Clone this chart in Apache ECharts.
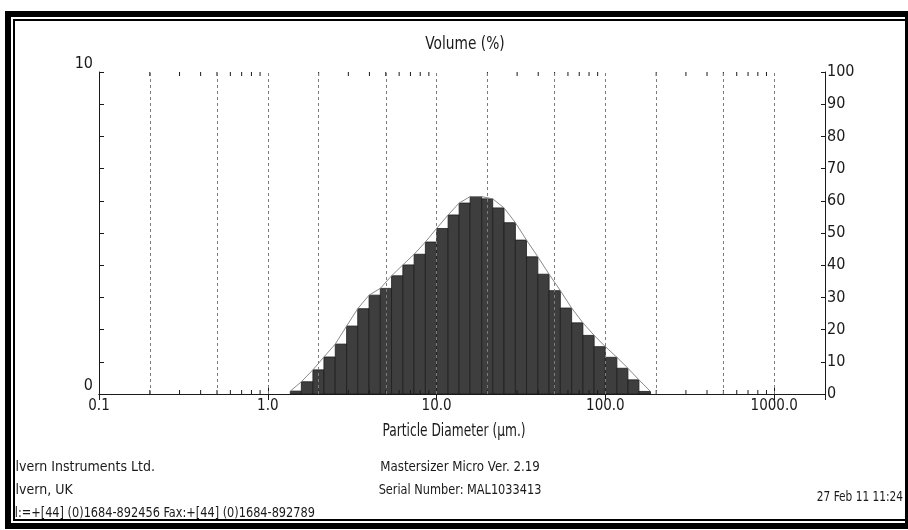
<!DOCTYPE html>
<html><head><meta charset="utf-8">
<script src="https://cdn.jsdelivr.net/npm/echarts@6/dist/echarts.min.js"></script>
<style>html,body{margin:0;padding:0;background:#fff}#c{width:908px;height:530px}</style>
</head><body><div id="c"></div>
<script>
// Size class edges (µm) and volume % in each class
const binEdges = [1.36,1.58,1.85,2.15,2.51,2.93,3.41,3.98,4.64,5.41,6.31,7.36,8.58,10.0,11.7,13.6,15.8,18.5,21.5,25.1,29.3,34.1,39.8,46.4,54.1,63.1,73.6,85.8,100,117,136,158,185];
const volumePct = [0.09,0.38,0.75,1.15,1.55,2.11,2.65,3.07,3.28,3.67,4.01,4.34,4.72,5.14,5.56,5.93,6.13,6.06,5.78,5.32,4.78,4.26,3.72,3.21,2.67,2.21,1.82,1.47,1.14,0.80,0.44,0.08];
const xTickLabels = [0.1, 1, 10, 100, 1000];
const gridValues = [0.2,0.5,1,2,5,10,20,50,100,200,500,1000];
const minorTickValues = [0.2,0.3,0.4,0.5,0.6,0.7,0.8,0.9,2,3,4,5,6,7,8,9,20,30,40,50,60,70,80,90,200,300,400,500,600,700,800,900];
const leftLabels = [0, 10];
const rightTickStep = 10;

const FONT = "'Liberation Sans Narrow','DejaVu Sans Condensed','Arial Narrow','Liberation Sans',sans-serif";
const INK = '#1a1a1a';

const chart = echarts.init(document.getElementById('c'), null, {renderer:'canvas'});

const curve = binEdges.map((e,k)=>[e, Math.max(k>0?volumePct[k-1]:0, k<volumePct.length?volumePct[k]:0)]);

function txt(x, y, s, size, sx, align){
  return {type:'text', x:x, y:y, scaleX:sx, z:10,
    style:{text:s, fill:INK, font:size+'px '+FONT, textAlign:align||'center', textVerticalAlign:'middle'}};
}

chart.setOption({
  backgroundColor:'#ffffff',
  animation:false,
  grid:{left:99, right:83, top:72, bottom:136, show:false},
  xAxis:[{
    type:'log', logBase:10, min:0.1, max:2000, position:'bottom',
    axisLine:{show:true, lineStyle:{color:INK, width:1}},
    axisTick:{show:true, inside:true, length:6, lineStyle:{color:INK}},
    splitLine:{show:false},
    axisLabel:{show:true, color:INK, fontFamily:FONT, fontSize:15, margin:5, showMaxLabel:false,
      formatter:(v)=>{ const m = xTickLabels.find(t=>Math.abs(t-v)/t<1e-6); return m===undefined?'':m.toFixed(1);} }
  },{
    type:'log', logBase:10, min:0.1, max:2000, position:'top',
    axisLine:{show:true, lineStyle:{color:INK, width:1}},
    axisTick:{show:true, inside:true, length:6, lineStyle:{color:INK}},
    axisLabel:{show:false}, splitLine:{show:false}
  }],
  yAxis:[{
    type:'value', min:0, max:10, interval:1, position:'left',
    axisLine:{show:true, lineStyle:{color:INK, width:1}},
    axisTick:{show:true, inside:true, length:5, lineStyle:{color:INK}},
    splitLine:{show:false},
    axisLabel:{color:INK, fontFamily:FONT, fontSize:16, margin:6, verticalAlign:'bottom',
      formatter:(v)=> leftLabels.includes(v)? String(v):''}
  },{
    type:'value', min:0, max:100, interval:rightTickStep, position:'right',
    axisLine:{show:true, lineStyle:{color:INK, width:1}},
    axisTick:{show:true, inside:true, length:4, lineStyle:{color:INK}},
    splitLine:{show:false},
    axisLabel:{color:INK, fontFamily:FONT, fontSize:16, margin:2, verticalAlign:'middle', padding:[0,0,2,0]}
  }],
  series:[{
    type:'custom', xAxisIndex:0, yAxisIndex:0, z:2,
    data: volumePct.map((v,i)=>[binEdges[i], binEdges[i+1], v]),
    encode:{x:[0,1], y:2},
    renderItem:(params, api)=>{
      const p0 = api.coord([api.value(0), api.value(2)]);
      const p1 = api.coord([api.value(1), 0]);
      return {type:'rect', shape:{x:p0[0], y:p0[1], width:p1[0]-p0[0], height:p1[1]-p0[1]},
        style:{fill:'#3e3e3e', stroke:'#1d1d1d', lineWidth:0.8}};
    }
  },{
    type:'custom', xAxisIndex:0, yAxisIndex:0, z:3, silent:true,
    data: minorTickValues.map(v=>[v]),
    encode:{x:0},
    renderItem:(params, api)=>{
      const b = api.coord([api.value(0), 0]);
      const t = api.coord([api.value(0), 10]);
      return {type:'group', children:[
        {type:'line', shape:{x1:b[0], y1:b[1], x2:b[0], y2:b[1]-4}, style:{stroke:INK, lineWidth:1}},
        {type:'line', shape:{x1:t[0], y1:t[1], x2:t[0], y2:t[1]+4}, style:{stroke:INK, lineWidth:1}}
      ]};
    }
  },{
    type:'line', xAxisIndex:0, yAxisIndex:0, z:4, data:curve, symbol:'none', silent:true,
    lineStyle:{color:'#8a8a8a', width:1},
    markLine:{silent:true, symbol:'none', label:{show:false},
      lineStyle:{type:[3,3], color:'#7c7c7c', width:1},
      data: gridValues.map(v=>({xAxis:v}))}
  }],
  graphic:[
    txt(465, 45, 'Volume (%)', 17, 0.9),
    txt(454, 432, 'Particle Diameter (µm.)', 17, 0.8),
    txt(460, 467, 'Mastersizer Micro Ver. 2.19', 14, 0.94),
    txt(460, 490, 'Serial Number: MAL1033413', 14, 0.9),
    txt(903, 497, '27 Feb 11 11:24', 14, 0.84, 'right'),
    txt(-3, 467, 'Malvern Instruments Ltd.', 14, 1, 'left'),
    txt(-3, 490, 'Malvern, UK', 14, 1, 'left'),
    txt(3, 513, 'Tel:=+[44] (0)1684-892456 Fax:+[44] (0)1684-892789', 14, 0.9, 'left'),
    // frame
    {type:'rect', z:50, shape:{x:0, y:0, width:5, height:530}, style:{fill:'#ffffff'}},
    {type:'rect', z:51, shape:{x:5, y:11, width:6, height:518}, style:{fill:'#000'}},
    {type:'rect', z:51, shape:{x:5, y:11, width:903, height:6}, style:{fill:'#000'}},
    {type:'rect', z:51, shape:{x:5, y:523, width:903, height:6}, style:{fill:'#000'}},
    {type:'rect', z:51, shape:{x:905, y:11, width:3, height:518}, style:{fill:'#000'}},
    {type:'rect', z:51, shape:{x:11, y:17, width:2, height:506}, style:{fill:'#fff'}},
    {type:'rect', z:51, shape:{x:13, y:19, width:2, height:502}, style:{fill:'#000'}},
    {type:'rect', z:51, shape:{x:13, y:19, width:892, height:2}, style:{fill:'#000'}},
    {type:'rect', z:51, shape:{x:13, y:519, width:892, height:2}, style:{fill:'#000'}}
  ]
});
</script></body></html>
